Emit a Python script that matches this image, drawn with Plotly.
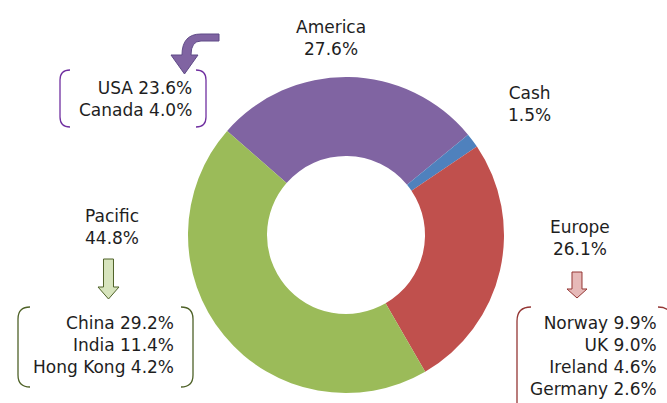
import plotly.graph_objects as go

W, H = 667, 403

# Data
regions = ["America", "Cash", "Europe", "Pacific"]
shares = [27.6, 1.5, 26.1, 44.8]
colors = ["#8064A2", "#4F81BD", "#C0504D", "#9BBB59"]

america_countries = ["USA", "Canada"]
america_values = [23.6, 4.0]
europe_countries = ["Norway", "UK", "Ireland", "Germany"]
europe_values = [9.9, 9.0, 4.6, 2.6]
pacific_countries = ["China", "India", "Hong Kong"]
pacific_values = [29.2, 11.4, 4.2]

FONT = "DejaVu Sans"
FS = 17
TXT = "#1E1E1E"


def px(x):
    return x / W


def py(y):
    return 1 - y / H


fig = go.Figure()
fig.add_trace(go.Pie(
    labels=regions, values=shares, sort=False, direction="clockwise",
    rotation=-48.8, hole=0.5,
    marker=dict(colors=colors, line=dict(width=0)),
    textinfo="none", hoverinfo="label+percent", showlegend=False,
    domain=dict(x=[px(188), px(504)], y=[py(393), py(77)]),
))

annotations = []


def label(text, x, y, xanchor="center", align="center"):
    annotations.append(dict(
        text=text, x=px(x), y=py(y), xref="paper", yref="paper",
        xanchor=xanchor, yanchor="middle", align=align, showarrow=False,
        font=dict(family=FONT, size=FS, color=TXT),
    ))


def region_text(name):
    i = regions.index(name)
    return f"{name}<br>{shares[i]:.1f}%"


def detail_text(names, vals):
    return "<br>".join(f"{n} {v:.1f}%" for n, v in zip(names, vals))


label(region_text("America"), 331, 38)
label(region_text("Cash"), 529, 104)
label(region_text("Pacific"), 112, 227)
label(region_text("Europe"), 580, 238)
label(detail_text(america_countries, america_values), 194, 99, "right", "right")
label(detail_text(pacific_countries, pacific_values), 176, 345, "right", "right")
label(detail_text(europe_countries, europe_values), 659, 356, "right", "right")

shapes = []


def P(x, y):
    return f"{px(x):.5f},{py(y):.5f}"


def bracket_pair(x0, x1, y0, y1, r, color):
    left = (f"M {P(x0 + r, y0)} Q {P(x0, y0)} {P(x0, y0 + r)} "
            f"L {P(x0, y1 - r)} Q {P(x0, y1)} {P(x0 + r, y1)}")
    right = (f"M {P(x1 - r, y0)} Q {P(x1, y0)} {P(x1, y0 + r)} "
             f"L {P(x1, y1 - r)} Q {P(x1, y1)} {P(x1 - r, y1)}")
    for p in (left, right):
        shapes.append(dict(type="path", path=p, xref="paper", yref="paper",
                           line=dict(color=color, width=1.3)))


bracket_pair(60, 206, 70, 127, 10, "#7030A0")
bracket_pair(18, 193, 307, 387, 12, "#4F6228")
bracket_pair(517, 672, 307, 420, 14, "#943634")


def down_arrow(cx, sw, y_top, y_head, hw, y_tip, fill, line):
    pts = [(cx - sw / 2, y_top), (cx + sw / 2, y_top), (cx + sw / 2, y_head),
           (cx + hw / 2, y_head), (cx, y_tip), (cx - hw / 2, y_head),
           (cx - sw / 2, y_head)]
    path = "M " + " L ".join(P(*p) for p in pts) + " Z"
    shapes.append(dict(type="path", path=path, xref="paper", yref="paper",
                       fillcolor=fill, line=dict(color=line, width=1)))


down_arrow(108.5, 10, 259, 287, 21, 299, "#D7E4BD", "#4F6228")
down_arrow(577, 10, 272, 289, 20, 298, "#E6B9B8", "#943634")

# bent purple arrow
bent = (f"M {P(219, 34)} L {P(201, 34)} Q {P(182, 34)} {P(182, 55)} "
        f"L {P(171, 55)} L {P(184.5, 74)} L {P(198, 55)} L {P(191, 55)} "
        f"Q {P(191, 41)} {P(201, 41)} L {P(219, 41)} Z")
shapes.append(dict(type="path", path=bent, xref="paper", yref="paper",
                   fillcolor="#8064A2", line=dict(color="#5F4A87", width=1)))

fig.update_layout(
    width=W, height=H, margin=dict(l=0, r=0, t=0, b=0),
    paper_bgcolor="white", plot_bgcolor="white",
    annotations=annotations, shapes=shapes,
)

fig.write_html("out.html", config={"displayModeBar": False},
               post_script="document.body.style.margin='0';"
                           "document.body.style.overflow='hidden';")
